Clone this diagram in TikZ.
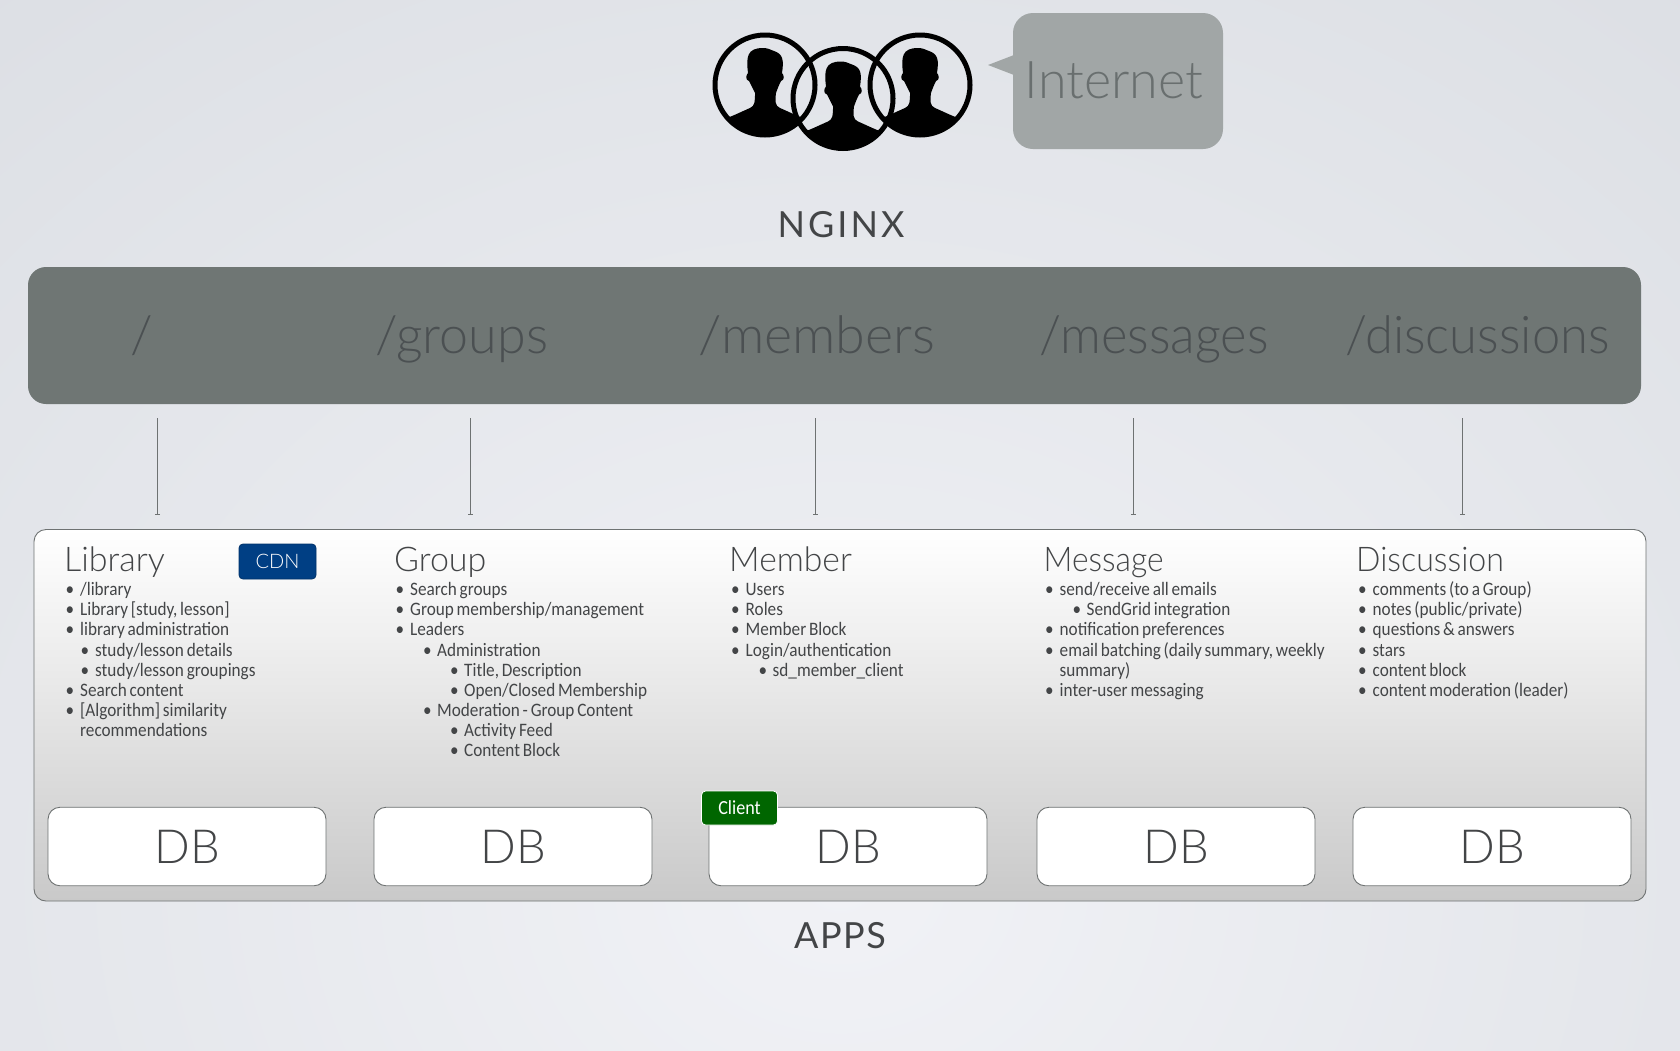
\documentclass[tikz,border=0pt]{standalone}
\usepackage{fontspec}
\usetikzlibrary{arrows.meta}
\setmainfont{Carlito}
\newfontfamily\lightfont{Lato Light}
\newfontfamily\bodyfont{Carlito}[FakeStretch=0.905]
\newfontfamily\secfont{Lato}
\definecolor{bgA}{HTML}{F1F2F6}
\definecolor{bgB}{HTML}{CFD3D9}
\definecolor{barC}{HTML}{6F7674}
\definecolor{barT}{HTML}{4B5052}
\definecolor{bubC}{HTML}{A1A6A6}
\definecolor{bubT}{HTML}{696F6F}
\definecolor{inkC}{HTML}{434547}
\definecolor{edgeC}{HTML}{6E7272}
\definecolor{cdnC}{HTML}{003F84}
\definecolor{cliC}{HTML}{006600}
\definecolor{boxB}{HTML}{C9C9C9}
\pgfdeclareradialshading{bgrad}{\pgfpointorigin}{color(0bp)=(bgA); color(50bp)=(bgB); color(100bp)=(bgB)}
\newlength{\tightsp}
\setlength{\tightsp}{2.8pt}
\newcommand{\LiA}[1]{\spaceskip\tightsp\strut\makebox[14.5pt][l]{•}#1\par}
\newcommand{\LiB}[1]{\spaceskip\tightsp\strut\hspace*{15pt}\makebox[14.5pt][l]{•}#1\par}
\newcommand{\LiGB}[1]{\spaceskip\tightsp\strut\hspace*{27.5pt}\makebox[14pt][l]{•}#1\par}
\newcommand{\LiGC}[1]{\spaceskip\tightsp\strut\hspace*{54.5pt}\makebox[14pt][l]{•}#1\par}
\newcommand{\LiN}[1]{\spaceskip\tightsp\strut\hspace*{14.5pt}#1\par}
\tikzset{
  x=1pt,y=-1pt,
  route/.style={anchor=base,font=\lightfont\fontsize{52}{52}\selectfont,text=barT,inner sep=0},
  dbbox/.style={draw=edgeC,line width=0.9pt,fill=white,rounded corners=12pt,minimum width=278pt,minimum height=78.5pt,inner sep=0,font=\lightfont\fontsize{47}{47}\selectfont,text=inkC},
  coltitle/.style={anchor=base west,inner sep=0,font=\lightfont\fontsize{34}{34}\selectfont,text=inkC},
  collist/.style={anchor=north west,inner sep=0,text width=330pt,align=left,font=\bodyfont\fontsize{19}{20.1}\selectfont,text=inkC},
  section/.style={inner sep=0,anchor=base,font=\secfont\fontsize{36}{36}\selectfont,text=inkC},
  link/.style={draw=edgeC,line width=0.8pt,-{Bar[width=5pt,line width=0.8pt]}},
  badge/.style={rounded corners=4pt,inner sep=0,text=white},
  person/.pic={
    \draw[line width=5pt,black] (0,0) circle[radius=50];
    \fill[black] (-38,33)
      .. controls (-30,30) and (-22,26) .. (-15,23)
      .. controls (-10,21) and (-10,16) .. (-10,8)
      .. controls (-13,2) and (-15,-2) .. (-16,-4)
      .. controls (-20,-5) and (-19,-10) .. (-17,-12)
      .. controls (-19,-28) and (-18,-37) .. (-2,-37)
      .. controls (4,-37) and (5,-35) .. (9,-34)
      .. controls (18,-31) and (19,-25) .. (17,-12)
      .. controls (19,-10) and (20,-5) .. (16,-4)
      .. controls (15,-2) and (13,2) .. (11,8)
      .. controls (10,16) and (10,21) .. (15,23)
      .. controls (22,26) and (30,30) .. (38,33)
      arc[start angle=41,end angle=139,radius=50] -- cycle;
  }
}
\begin{document}
\begin{tikzpicture}
\useasboundingbox (0,0) rectangle (1680,1050);
\begin{scope}
\clip (0,0) rectangle (1680,1050);
\shade[shading=bgrad] (-260,-70) rectangle (1940,1830);
\end{scope}

% users
\pic at (765,85) {person};
\pic at (920,85) {person};
\pic at (843,98.5) {person};

% bubble
\fill[bubC,rounded corners=20pt] (1013,13) rectangle (1223,149);
\fill[bubC] (988,65) -- (1014,55) -- (1014,75) -- cycle;
\node[inner sep=0,anchor=base,font=\lightfont\fontsize{52}{52}\selectfont,text=bubT] (internet) at (1114,98) {Internet};

\node[section] (nginx) at (841,237) {N\kern3pt G\kern3pt I\kern3pt N\kern3pt X};

% nginx bar
\fill[barC,rounded corners=18pt] (28,267) rectangle (1641,404);
\node[route] (r1) at (142,353.5) {/};
\node[route] (r2) at (462,353.5) {/groups};
\node[route] (r3) at (817,353.5) {\scalebox{1.035}[1]{/members}};
\node[route] (r4) at (1154,353.5) {\scalebox{0.975}[1]{/messages}};
\node[route] (r5) at (1477.5,353.5) {\scalebox{0.975}[1]{/discussions}};

% connectors
\coordinate (a1) at (157.5,418); \coordinate (b1) at (157.5,515);
\coordinate (a2) at (470,418);   \coordinate (b2) at (470,515);
\coordinate (a3) at (815,418);   \coordinate (b3) at (815,515);
\coordinate (a4) at (1133,418);  \coordinate (b4) at (1133,515);
\coordinate (a5) at (1462,418);  \coordinate (b5) at (1462,515);
\foreach \i in {1,...,5}{\draw[link] (a\i) -- (b\i);}

% apps box
\draw[edgeC,line width=0.9pt,rounded corners=12pt,top color=white,bottom color=boxB] (34,529.5) rectangle (1646,901);

% column titles
\node[coltitle] (t1) at (64,571) {Library};
\node[coltitle] (t2) at (394,571) {Group};
\node[coltitle] (t3) at (729,571) {\scalebox{0.99}[1]{Member}};
\node[coltitle] (t4) at (1043.5,571) {\scalebox{0.935}[1]{Message}};
\node[coltitle] (t5) at (1356,571) {\scalebox{0.945}[1]{Discussion}};

\node[collist] (l1) at (65.5,581.5) {\LiA{/library}\LiA{Library [study, lesson]}\LiA{library administration}\LiB{study/lesson details}\LiB{study/lesson groupings}\LiA{Search content}\LiA{[Algorithm] similarity}\LiN{recommendations}};
\node[collist] (l2) at (395.5,581.5) {\LiA{Search groups}\LiA{Group membership/management}\LiA{Leaders}\LiGB{Administration}\LiGC{Title, Description}\LiGC{Open/Closed Membership}\LiGB{Moderation - Group Content}\LiGC{Activity Feed}\LiGC{Content Block}};
\node[collist] (l3) at (731,581.5) {\LiA{Users}\LiA{Roles}\LiA{Member Block}\LiA{Login/authentication}\LiGB{sd\_member\_client}};
\node[collist] (l4) at (1045,581.5) {\LiA{send/receive all emails}\LiGB{SendGrid integration}\LiA{notification preferences}\LiA{email batching (daily summary, weekly}\LiN{summary)}\LiA{inter-user messaging}};
\node[collist] (l5) at (1358,581.5) {\LiA{comments (to a Group)}\LiA{notes (public/private)}\LiA{questions \& answers}\LiA{stars}\LiA{content block}\LiA{content moderation (leader)}};

% db boxes
\node[dbbox] (d1) at (187,846.5) {DB};
\node[dbbox] (d2) at (513,846.5) {DB};
\node[dbbox] (d3) at (848,846.5) {DB};
\node[dbbox] (d4) at (1176,846.5) {DB};
\node[dbbox] (d5) at (1492,846.5) {DB};

% badges
\node[badge,fill=cdnC,draw=cdnC!80!black,line width=0.8pt,minimum width=77pt,minimum height=35pt,font=\lightfont\fontsize{20}{20}\selectfont] (cdn) at (277.5,561.5) {CDN};
\node[badge,fill=cliC,draw=white,line width=0.8pt,minimum width=76pt,minimum height=34pt,font=\bodyfont\fontsize{20}{20}\selectfont] (client) at (739.5,808) {Client};

\node[section] (apps) at (840,948) {A\kern1.5pt P\kern1.5pt P\kern1.5pt S};
\end{tikzpicture}
\end{document}
